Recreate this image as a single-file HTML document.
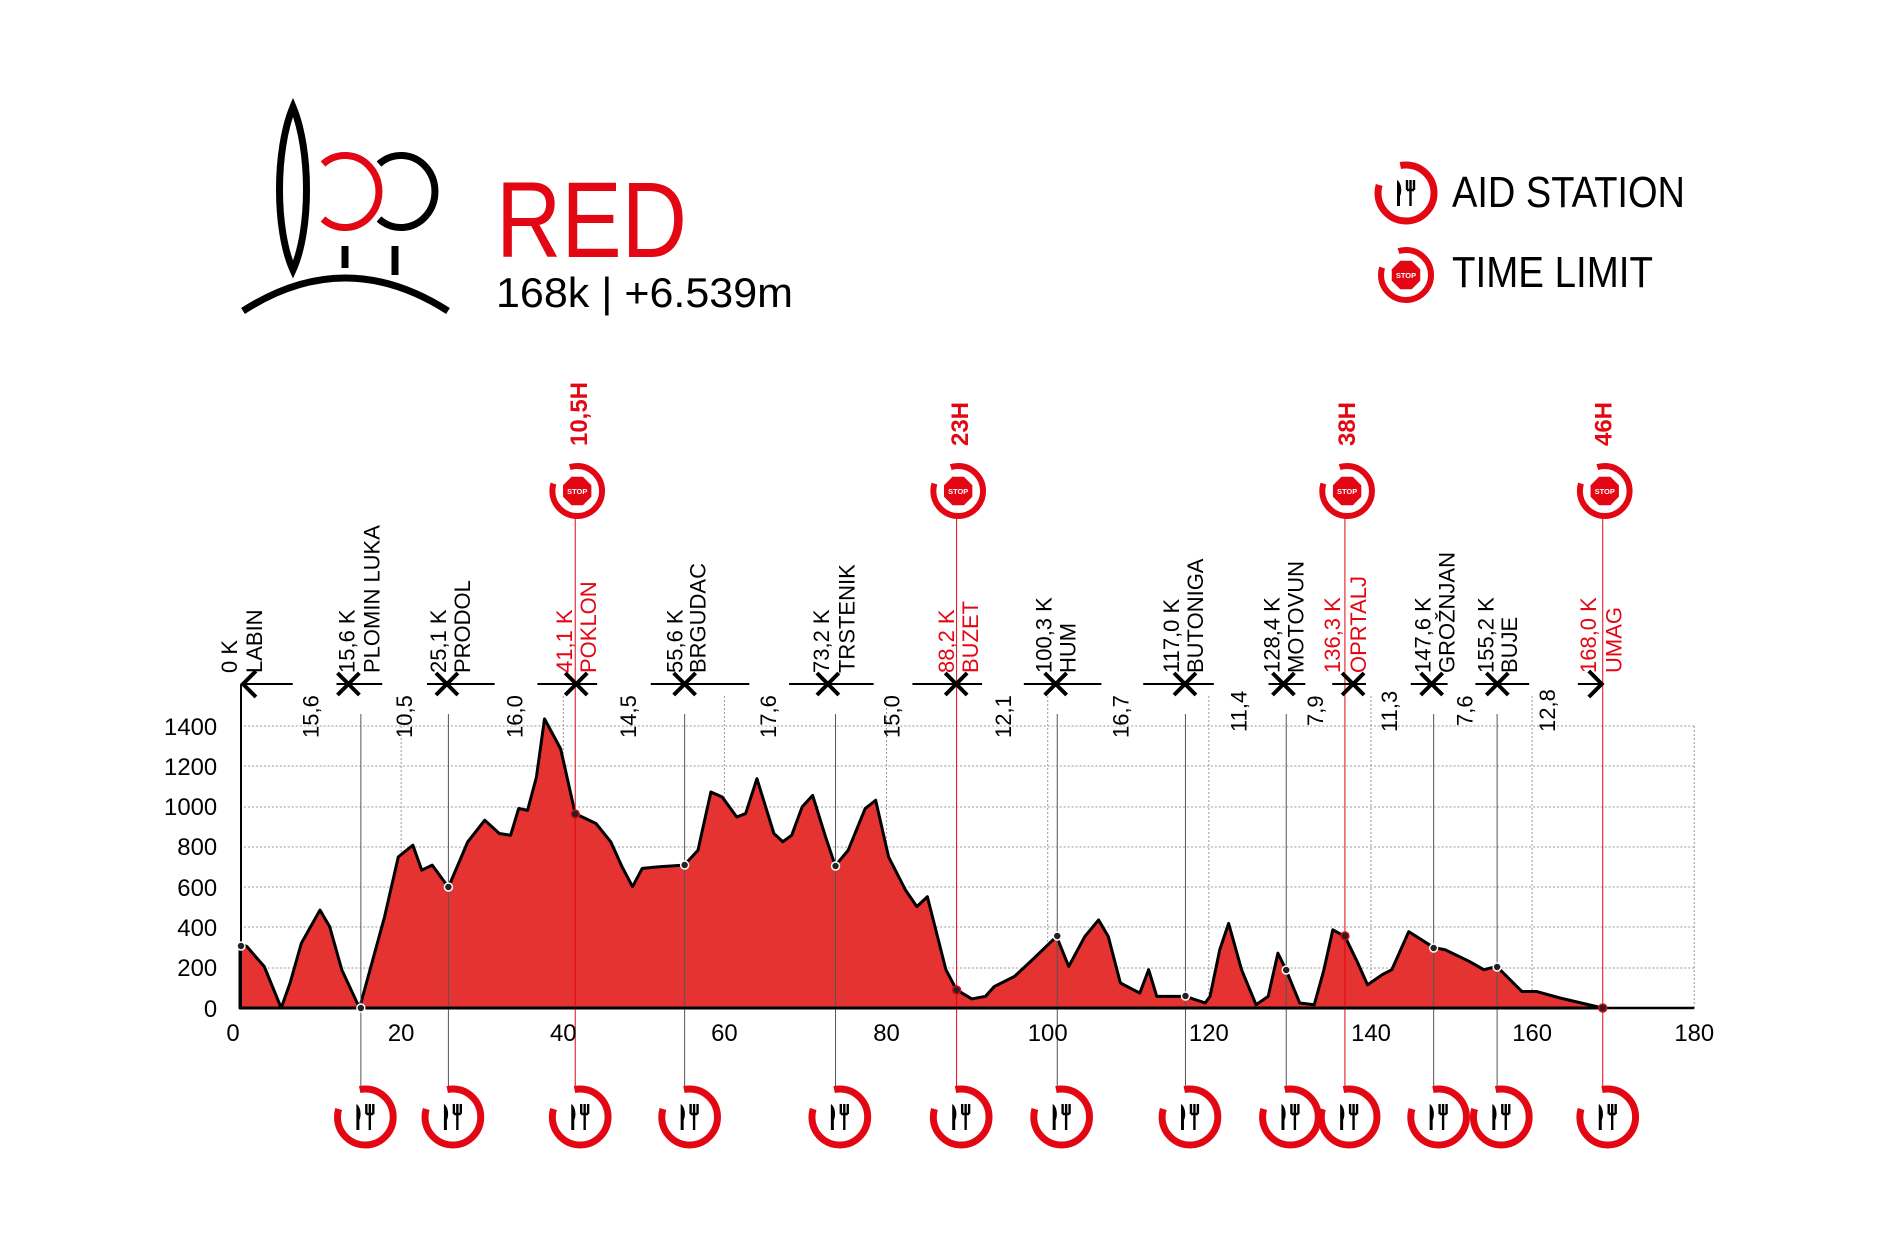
<!DOCTYPE html>
<html><head><meta charset="utf-8"><style>
html,body{margin:0;padding:0;background:#fff;}
svg{display:block;}
text{font-family:"Liberation Sans",sans-serif;}
</style></head><body>
<svg width="1880" height="1255" viewBox="0 0 1880 1255" xmlns="http://www.w3.org/2000/svg">
<defs>
<g id="aid">
<circle r="28" fill="none" stroke="#e30613" stroke-width="7" stroke-dasharray="96 30 50"/>
<path d="M-9,-13 C-4,-10 -4,0 -6,3 L-6,13 L-9,13 Z" fill="#000"/>
<path d="M1,-13 V-3 M4.5,-13 V-3 M8,-13 V-3 M1,-3 H8 M4.5,-3 V13" stroke="#000" stroke-width="2.4" fill="none"/>
</g>
<g id="stop">
<circle r="25" fill="none" stroke="#e30613" stroke-width="6" stroke-dasharray="86 24 47"/>
<polygon points="-6,-15 6,-15 15,-6 15,6 6,15 -6,15 -15,6 -15,-6" fill="#e30613" stroke="#fff" stroke-width="1.5"/>
<text x="0" y="3" font-size="7.5" font-weight="bold" fill="#fff" text-anchor="middle">STOP</text>
</g>
</defs>

<!-- Logo -->
<path d="M293,107 C275,150 275,230 293,270 C311,230 311,150 293,107 Z" fill="none" stroke="#000" stroke-width="7"/>
<path d="M323,164 A34,36 0 1 1 323,219" fill="none" stroke="#e30613" stroke-width="7"/>
<path d="M379,164 A34,36 0 1 1 379,219" fill="none" stroke="#000" stroke-width="7"/>
<line x1="345" y1="246" x2="345" y2="268" stroke="#000" stroke-width="7"/>
<line x1="395" y1="246" x2="395" y2="275" stroke="#000" stroke-width="7"/>
<path d="M243,311 Q345,245 448,311" fill="none" stroke="#000" stroke-width="7"/>

<text x="496" y="257" font-size="108" fill="#e30613" textLength="191" lengthAdjust="spacingAndGlyphs">RED</text>
<text x="496" y="307" font-size="42" fill="#000" textLength="297" lengthAdjust="spacingAndGlyphs">168k | +6.539m</text>

<!-- Legend -->
<use href="#aid" x="1406" y="193"/>
<text x="1452" y="207" font-size="44" fill="#000" textLength="233" lengthAdjust="spacingAndGlyphs">AID STATION</text>
<use href="#stop" x="1406" y="275"/>
<text x="1452" y="287" font-size="44" fill="#000" textLength="201" lengthAdjust="spacingAndGlyphs">TIME LIMIT</text>

<g transform="translate(1.28,-4) scale(0.9947,1)">
<!-- grid -->
<g stroke="#999" stroke-width="1" stroke-dasharray="2,2">
<line x1="240" y1="730" x2="1702" y2="730"/>
<line x1="240" y1="770" x2="1702" y2="770"/>
<line x1="240" y1="811" x2="1702" y2="811"/>
<line x1="240" y1="851" x2="1702" y2="851"/>
<line x1="240" y1="891" x2="1702" y2="891"/>
<line x1="240" y1="931" x2="1702" y2="931"/>
<line x1="240" y1="972" x2="1702" y2="972"/>
<line x1="402" y1="718" x2="402" y2="1012"/>
<line x1="565" y1="700" x2="565" y2="1012"/>
<line x1="727" y1="700" x2="727" y2="1012"/>
<line x1="890" y1="700" x2="890" y2="1012"/>
<line x1="1052" y1="700" x2="1052" y2="1012"/>
<line x1="1214" y1="700" x2="1214" y2="1012"/>
<line x1="1377" y1="700" x2="1377" y2="1012"/>
<line x1="1539" y1="700" x2="1539" y2="1012"/>
<line x1="1702" y1="730" x2="1702" y2="1012"/>
</g>

<!-- profile -->
<g transform="translate(240,1012) scale(8.12,-0.2015)">
<path fill="#e53331" stroke="#000" stroke-width="3" vector-effect="non-scaling-stroke" stroke-linejoin="round" d="M0,0 L0,322 L.85,305 L3,206 L5.1,0 L6.2,124 L7.6,322 L9.9,486 L11.1,404 L12.6,190 L14.8,0 L16.1,190 L17.9,453 L19.6,750 L21.4,808 L22.5,684 L23.8,709 L25.8,599 L28.2,825 L30.3,932 L32.1,866 L33.5,857 L34.5,990 L35.6,981 L36.7,1146 L37.7,1435 L39.7,1286 L41.5,965 L44.1,915 L45.9,825 L47.3,701 L48.6,602 L49.8,693 L51.9,701 L55,709 L56.7,783 L58.3,1072 L59.7,1047 L61.5,948 L62.6,965 L64,1138 L66.1,866 L67.2,825 L68.3,857 L69.6,998 L70.9,1055 L72.5,849 L73.7,706 L75.3,783 L77.4,990 L78.7,1031 L80.3,750 L82.4,585 L83.8,503 L85.1,552 L87.4,190 L88.7,91 L90.6,45 L92.3,58 L93.4,107 L95.9,157 L98.3,247 L101.1,355 L102.6,206 L104.6,355 L106.3,437 L107.5,355 L109,124 L111.4,74 L112.5,190 L113.5,58 L117,58 L119.5,25 L120.1,58 L121.3,289 L122.4,420 L124,190 L125.8,16 L127.3,58 L128.5,272 L129.5,190 L131.2,25 L133,16 L134.2,190 L135.3,388 L136.8,355 L138.4,223 L139.6,115 L141.4,165 L142.6,190 L144.7,379 L147.8,300 L149.2,289 L152.2,231 L154,190 L155.6,206 L158.7,82 L160.5,82 L163.5,49 L168.7,0 Z"/>
</g>

<!-- station lines -->
<g stroke="#555" stroke-width="1">
<line x1="241" y1="688" x2="241" y2="1012" stroke="#000" stroke-width="2"/>
<line x1="361.5" y1="718" x2="361.5" y2="1095"/>
<line x1="449.5" y1="718" x2="449.5" y2="1095"/>
<line x1="687" y1="718" x2="687" y2="1095"/>
<line x1="838.7" y1="718" x2="838.7" y2="1095"/>
<line x1="1061.6" y1="718" x2="1061.6" y2="1095"/>
<line x1="1190.5" y1="718" x2="1190.5" y2="1095"/>
<line x1="1291.8" y1="718" x2="1291.8" y2="1095"/>
<line x1="1440" y1="718" x2="1440" y2="1095"/>
<line x1="1503.8" y1="718" x2="1503.8" y2="1095"/>
</g>
<g stroke="#e30613" stroke-width="1">
<line x1="577" y1="520" x2="577" y2="1095"/>
<line x1="960.4" y1="520" x2="960.4" y2="1095"/>
<line x1="1350.8" y1="520" x2="1350.8" y2="1095"/>
<line x1="1610" y1="520" x2="1610" y2="1095"/>
</g>
<line x1="240" y1="1012" x2="1702" y2="1012" stroke="#000" stroke-width="2.5"/>

<!-- dots -->
<g stroke="#fff" stroke-width="1.5" fill="#222">
<circle cx="241" cy="950" r="4"/>
<circle cx="361.5" cy="1012" r="4"/>
<circle cx="449.5" cy="891" r="4"/>
<circle cx="687" cy="869" r="4"/>
<circle cx="838.7" cy="870" r="4"/>
<circle cx="1061.6" cy="940" r="4"/>
<circle cx="1190.5" cy="1000" r="4"/>
<circle cx="1291.8" cy="974" r="4"/>
<circle cx="1440" cy="952" r="4"/>
<circle cx="1503.8" cy="971" r="4"/>
</g>
<g stroke="#e30613" stroke-width="1.5" fill="#222">
<circle cx="577" cy="818" r="4"/>
<circle cx="960.4" cy="994" r="4"/>
<circle cx="1350.8" cy="940" r="4"/>
<circle cx="1610" cy="1012" r="4"/>
</g>

<!-- axis labels -->
<g font-size="24" fill="#000" text-anchor="end">
<text x="217" y="1021">0</text><text x="217" y="980">200</text><text x="217" y="940">400</text>
<text x="217" y="900">600</text><text x="217" y="859">800</text><text x="217" y="819">1000</text>
<text x="217" y="779">1200</text><text x="217" y="739">1400</text>
</g>
<g font-size="24" fill="#000" text-anchor="middle">
<text x="233" y="1045">0</text><text x="402" y="1045">20</text><text x="565" y="1045">40</text>
<text x="727" y="1045">60</text><text x="890" y="1045">80</text><text x="1052" y="1045">100</text>
<text x="1214" y="1045">120</text><text x="1377" y="1045">140</text><text x="1539" y="1045">160</text>
<text x="1702" y="1045">180</text>
</g>

<!-- marker row -->
<g stroke="#000" stroke-width="2">
<line x1="241" y1="688" x2="293" y2="688"/><line x1="337" y1="688" x2="383" y2="688"/>
<line x1="428" y1="688" x2="496" y2="688"/><line x1="539" y1="688" x2="599" y2="688"/>
<line x1="653" y1="688" x2="752" y2="688"/><line x1="792" y1="688" x2="877" y2="688"/>
<line x1="916" y1="688" x2="986" y2="688"/><line x1="1028" y1="688" x2="1106" y2="688"/>
<line x1="1148" y1="688" x2="1219" y2="688"/><line x1="1274" y1="688" x2="1311" y2="688"/>
<line x1="1338" y1="688" x2="1372" y2="688"/><line x1="1417" y1="688" x2="1454" y2="688"/>
<line x1="1482" y1="688" x2="1536" y2="688"/><line x1="1585" y1="688" x2="1610" y2="688"/>
</g>
<g stroke="#000" stroke-width="4" fill="none">
<path d="M256,675 L243,688 L256,701"/>
<path d="M1596,675 L1609,688 L1596,701"/>
<path d="M338,677 l22,22 m0,-22 l-22,22"/>
<path d="M437,677 l22,22 m0,-22 l-22,22"/>
<path d="M567,677 l22,22 m0,-22 l-22,22"/>
<path d="M676,677 l22,22 m0,-22 l-22,22"/>
<path d="M820,677 l22,22 m0,-22 l-22,22"/>
<path d="M949,677 l22,22 m0,-22 l-22,22"/>
<path d="M1049,677 l22,22 m0,-22 l-22,22"/>
<path d="M1179,677 l22,22 m0,-22 l-22,22"/>
<path d="M1278,677 l22,22 m0,-22 l-22,22"/>
<path d="M1348,677 l22,22 m0,-22 l-22,22"/>
<path d="M1427,677 l22,22 m0,-22 l-22,22"/>
<path d="M1493,677 l22,22 m0,-22 l-22,22"/>
</g>

<!-- station labels -->
<g font-size="22" fill="#000">
<text transform="translate(237,677) rotate(-90)">0 K</text><text transform="translate(262,677) rotate(-90)">LABIN</text>
<text transform="translate(355,677) rotate(-90)">15,6 K</text><text transform="translate(380,677) rotate(-90)">PLOMIN LUKA</text>
<text transform="translate(447,677) rotate(-90)">25,1 K</text><text transform="translate(471,677) rotate(-90)">PRODOL</text>
<text transform="translate(685,677) rotate(-90)">55,6 K</text><text transform="translate(708,677) rotate(-90)">BRGUDAC</text>
<text transform="translate(832,677) rotate(-90)">73,2 K</text><text transform="translate(858,677) rotate(-90)">TRSTENIK</text>
<text transform="translate(1056,677) rotate(-90)">100,3 K</text><text transform="translate(1080,677) rotate(-90)">HUM</text>
<text transform="translate(1184,677) rotate(-90)">117,0 K</text><text transform="translate(1208,677) rotate(-90)">BUTONIGA</text>
<text transform="translate(1285,677) rotate(-90)">128,4 K</text><text transform="translate(1309,677) rotate(-90)">MOTOVUN</text>
<text transform="translate(1437,677) rotate(-90)">147,6 K</text><text transform="translate(1461,677) rotate(-90)">GROŽNJAN</text>
<text transform="translate(1500,677) rotate(-90)">155,2 K</text><text transform="translate(1524,677) rotate(-90)">BUJE</text>
</g>
<g font-size="22" fill="#e30613">
<text transform="translate(574,677) rotate(-90)">41,1 K</text><text transform="translate(598,677) rotate(-90)">POKLON</text>
<text transform="translate(958,677) rotate(-90)">88,2 K</text><text transform="translate(982,677) rotate(-90)">BUZET</text>
<text transform="translate(1346,677) rotate(-90)">136,3 K</text><text transform="translate(1372,677) rotate(-90)">OPRTALJ</text>
<text transform="translate(1603,677) rotate(-90)">168,0 K</text><text transform="translate(1629,677) rotate(-90)">UMAG</text>
</g>

<!-- segment distances -->
<g font-size="22" fill="#000">
<text transform="translate(319,742) rotate(-90)">15,6</text>
<text transform="translate(413,742) rotate(-90)">10,5</text>
<text transform="translate(524,742) rotate(-90)">16,0</text>
<text transform="translate(638,742) rotate(-90)">14,5</text>
<text transform="translate(779,742) rotate(-90)">17,6</text>
<text transform="translate(903,742) rotate(-90)">15,0</text>
<text transform="translate(1015,742) rotate(-90)">12,1</text>
<text transform="translate(1133,742) rotate(-90)">16,7</text>
<text transform="translate(1252,736) rotate(-90)">11,4</text>
<text transform="translate(1329,730) rotate(-90)">7,9</text>
<text transform="translate(1403,736) rotate(-90)">11,3</text>
<text transform="translate(1479,730) rotate(-90)">7,6</text>
<text transform="translate(1562,736) rotate(-90)">12,8</text>
</g>

<!-- stop icons & time labels -->
<use href="#stop" x="579" y="495"/>
<use href="#stop" x="962" y="495"/>
<use href="#stop" x="1353" y="495"/>
<use href="#stop" x="1612" y="495"/>
<g font-size="24" font-weight="bold" fill="#e30613">
<text transform="translate(589,450) rotate(-90)">10,5H</text>
<text transform="translate(972,450) rotate(-90)">23H</text>
<text transform="translate(1361,450) rotate(-90)">38H</text>
<text transform="translate(1619,450) rotate(-90)">46H</text>
</g>

<!-- aid icons -->
<g transform="translate(0,-2)">
<use href="#aid" x="366" y="1123"/>
<use href="#aid" x="454" y="1123"/>
<use href="#aid" x="582" y="1123"/>
<use href="#aid" x="692" y="1123"/>
<use href="#aid" x="843" y="1123"/>
<use href="#aid" x="965" y="1123"/>
<use href="#aid" x="1066" y="1123"/>
<use href="#aid" x="1195" y="1123"/>
<use href="#aid" x="1296" y="1123"/>
<use href="#aid" x="1355" y="1123"/>
<use href="#aid" x="1445" y="1123"/>
<use href="#aid" x="1508" y="1123"/>
<use href="#aid" x="1615" y="1123"/>
</g>
</g>
</svg>
</body></html>
